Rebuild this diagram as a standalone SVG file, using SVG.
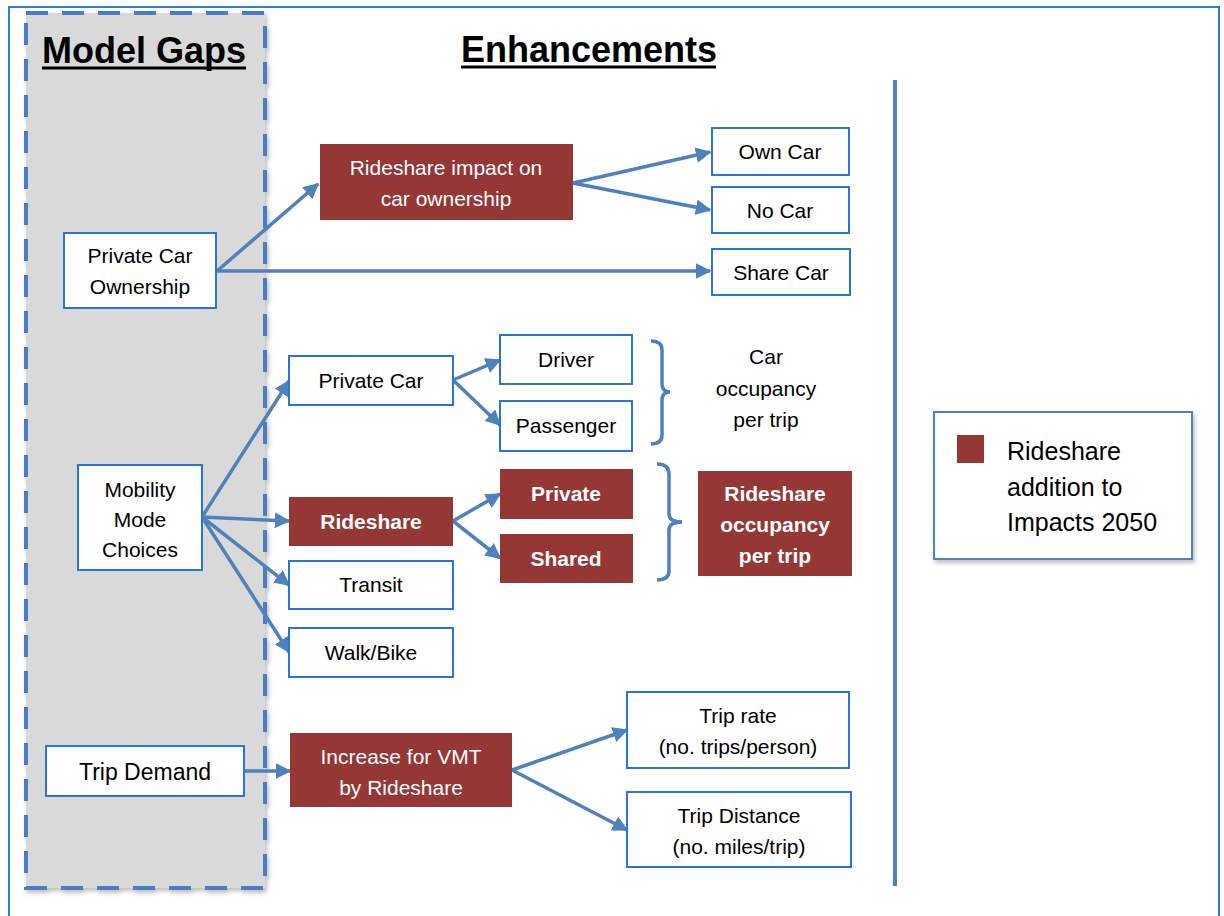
<svg xmlns="http://www.w3.org/2000/svg" width="1224" height="916" viewBox="0 0 1224 916">
<defs>
<style>
.box{fill:#ffffff;stroke:#2a76d2;stroke-width:2}
.red{fill:#953735;stroke:none}
.t{font-family:"Liberation Sans",Arial,sans-serif;font-size:21px;fill:#000;text-anchor:middle}
.tw{font-family:"Liberation Sans",Arial,sans-serif;font-size:21px;fill:#fff;text-anchor:middle}
.tb{font-family:"Liberation Sans",Arial,sans-serif;font-size:21px;fill:#fff;text-anchor:middle;font-weight:bold}
.h{font-family:"Liberation Sans",Arial,sans-serif;font-size:36px;font-weight:bold;fill:#000;text-anchor:middle}
.ul{stroke:#000;stroke-width:3}
.c{stroke:#4f81bd;stroke-width:3.5;fill:none;marker-end:url(#ah)}
.br{stroke:#4f81bd;stroke-width:3.5;fill:none}
</style>
<marker id="ah" viewBox="0 0 10 10" refX="9" refY="5" markerWidth="4.5" markerHeight="4.5" orient="auto" markerUnits="strokeWidth">
<path d="M0,0 L10,5 L0,10 z" fill="#4f81bd"/>
</marker>
<filter id="sh" x="-5%" y="-5%" width="115%" height="115%">
<feDropShadow dx="2" dy="3" stdDeviation="2" flood-color="#000" flood-opacity="0.25"/>
</filter>
</defs>
<rect x="0" y="0" width="1224" height="916" fill="#ffffff"/>
<path d="M9,916 L9,7 L1219,7 L1219,916" fill="none" stroke="#2f7fd8" stroke-width="2"/>

<g id="model-gaps">
<rect x="26" y="13" width="239" height="875" fill="#d9d9d9" stroke="#4a7ec4" stroke-width="4" stroke-dasharray="22,14" filter="url(#sh)"/>
<text class="h" x="144" y="63">Model Gaps</text>
<line class="ul" x1="42" y1="68" x2="246" y2="68"/>
</g>
<g id="enhancements-title"><text class="h" x="589" y="62">Enhancements</text><line class="ul" x1="461" y1="67" x2="716" y2="67"/></g>
<g id="divider"><line x1="895" y1="80" x2="895" y2="886" stroke="#4f81bd" stroke-width="4"/></g>

<g id="connectors">
<path class="c" d="M217,271 L318,184"/>
<path class="c" d="M217,271 L710,271"/>
<path class="c" d="M573,183 L710,152"/>
<path class="c" d="M573,183 L710,210"/>
<path class="c" d="M202,517 L289,381"/>
<path class="c" d="M202,517 L289,521"/>
<path class="c" d="M202,517 L289,585"/>
<path class="c" d="M202,517 L289,652"/>
<path class="c" d="M453,380 L500,360"/>
<path class="c" d="M453,380 L500,425"/>
<path class="c" d="M453,521 L500,494"/>
<path class="c" d="M453,521 L500,558"/>
<path class="c" d="M244,771 L290,771"/>
<path class="c" d="M512,770 L627,730"/>
<path class="c" d="M512,770 L627,830"/>
<path class="br" d="M651,341 Q662,341 662,350 L662,384 Q662,392 670,392 Q662,392 662,400 L662,435 Q662,444 651,444"/>
<path class="br" d="M657,464 Q669,464 669,474 L669,514 Q669,522 682,522 Q669,522 669,530 L669,571 Q669,580 657,580"/>
</g>

<g id="private-car-ownership"><rect class="box" x="64" y="233" width="152" height="75"/><text class="t" x="140" y="263">Private Car</text><text class="t" x="140" y="294">Ownership</text></g>
<g id="rideshare-impact"><rect class="red" x="320" y="144" width="253" height="76"/><text class="tw" x="446" y="175">Rideshare impact on</text><text class="tw" x="446" y="206">car ownership</text></g>
<g id="own-car"><rect class="box" x="712" y="128" width="137" height="47"/><text class="t" x="780" y="159">Own Car</text></g>
<g id="no-car"><rect class="box" x="712" y="187" width="137" height="46"/><text class="t" x="780" y="218">No Car</text></g>
<g id="share-car"><rect class="box" x="712" y="249" width="138" height="46"/><text class="t" x="781" y="280">Share Car</text></g>

<g id="mobility-mode-choices"><rect class="box" x="78" y="465" width="124" height="105"/><text class="t" x="140" y="497">Mobility</text><text class="t" x="140" y="527">Mode</text><text class="t" x="140" y="557">Choices</text></g>
<g id="private-car"><rect class="box" x="289" y="356" width="164" height="49"/><text class="t" x="371" y="388">Private Car</text></g>
<g id="driver"><rect class="box" x="500" y="335" width="132" height="49"/><text class="t" x="566" y="367">Driver</text></g>
<g id="passenger"><rect class="box" x="500" y="401" width="132" height="50"/><text class="t" x="566" y="433">Passenger</text></g>
<g id="car-occupancy"><text class="t" x="766" y="364">Car</text><text class="t" x="766" y="396">occupancy</text><text class="t" x="766" y="427">per trip</text></g>
<g id="rideshare"><rect class="red" x="289" y="497" width="164" height="49"/><text class="tb" x="371" y="529">Rideshare</text></g>
<g id="transit"><rect class="box" x="289" y="561" width="164" height="48"/><text class="t" x="371" y="592">Transit</text></g>
<g id="walk-bike"><rect class="box" x="289" y="628" width="164" height="49"/><text class="t" x="371" y="660">Walk/Bike</text></g>
<g id="private"><rect class="red" x="500" y="469" width="133" height="50"/><text class="tb" x="566" y="501">Private</text></g>
<g id="shared"><rect class="red" x="500" y="534" width="133" height="49"/><text class="tb" x="566" y="566">Shared</text></g>
<g id="rideshare-occupancy"><rect class="red" x="698" y="471" width="154" height="105"/><text class="tb" x="775" y="501">Rideshare</text><text class="tb" x="775" y="532">occupancy</text><text class="tb" x="775" y="563">per trip</text></g>

<g id="trip-demand"><rect class="box" x="46" y="746" width="198" height="50"/><text class="t" x="145" y="780" style="font-size:23px">Trip Demand</text></g>
<g id="increase-vmt"><rect class="red" x="290" y="733" width="222" height="74"/><text class="tw" x="401" y="764">Increase for VMT</text><text class="tw" x="401" y="795">by Rideshare</text></g>
<g id="trip-rate"><rect class="box" x="627" y="692" width="222" height="76"/><text class="t" x="738" y="723">Trip rate</text><text class="t" x="738" y="754">(no. trips/person)</text></g>
<g id="trip-distance"><rect class="box" x="627" y="792" width="224" height="75"/><text class="t" x="739" y="823">Trip Distance</text><text class="t" x="739" y="854">(no. miles/trip)</text></g>

<g id="legend">
<rect x="934" y="412" width="258" height="147" fill="#fff" stroke="#4f81bd" stroke-width="2" filter="url(#sh)"/>
<rect class="red" x="957" y="435" width="27" height="28"/>
<text x="1007" y="460" style="font-family:'Liberation Sans',Arial,sans-serif;font-size:25px;fill:#000">Rideshare</text>
<text x="1007" y="496" style="font-family:'Liberation Sans',Arial,sans-serif;font-size:25px;fill:#000">addition to</text>
<text x="1007" y="531" style="font-family:'Liberation Sans',Arial,sans-serif;font-size:25px;fill:#000">Impacts 2050</text>
</g>
</svg>
